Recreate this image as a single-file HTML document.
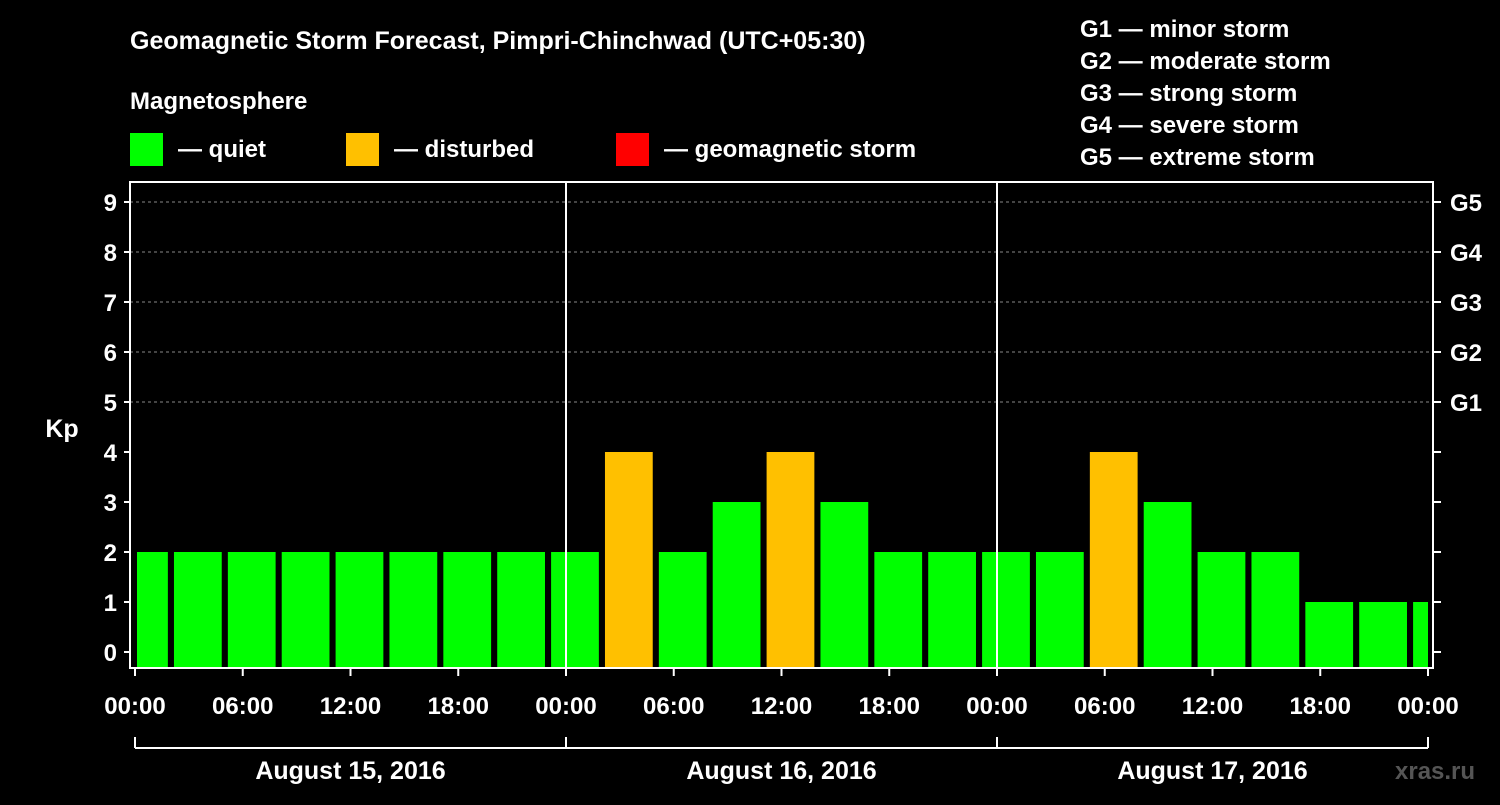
<!DOCTYPE html>
<html><head><meta charset="utf-8"><style>
html,body{margin:0;padding:0;background:#000;}
svg text{font-family:"Liberation Sans",Arial,sans-serif;font-weight:bold;fill:#fff;}
</style></head><body>
<svg id="chart" width="1500" height="800" viewBox="0 0 1500 800" xmlns="http://www.w3.org/2000/svg">
<rect x="0" y="0" width="1500" height="800" fill="#000"/>
<text x="130" y="49" font-size="25">Geomagnetic Storm Forecast, Pimpri-Chinchwad (UTC+05:30)</text>
<text x="130" y="109" font-size="24">Magnetosphere</text>
<g><rect x="130" y="133" width="33" height="33" fill="#00ff00"/><text x="178" y="157" font-size="24">— quiet</text></g>
<g><rect x="346" y="133" width="33" height="33" fill="#ffc000"/><text x="394" y="157" font-size="24">— disturbed</text></g>
<g><rect x="616" y="133" width="33" height="33" fill="#ff0000"/><text x="664" y="157" font-size="24">— geomagnetic storm</text></g>
<g font-size="24">
<text x="1080" y="37">G1 — minor storm</text>
<text x="1080" y="69">G2 — moderate storm</text>
<text x="1080" y="101">G3 — strong storm</text>
<text x="1080" y="133">G4 — severe storm</text>
<text x="1080" y="165">G5 — extreme storm</text>
</g>
<g id="plot"></g>
<text x="62" y="437" font-size="25" text-anchor="middle">Kp</text>
<text x="1395" y="779" font-size="24" fill="#555" style="fill:#555">xras.ru</text>
</svg>
<script>
const kpValues = [2,2,2,2,2,2,2,2,2,4,2,3,4,3,2,2,2,2,4,3,2,2,1,1,1];
const xTickLabels = ["00:00","06:00","12:00","18:00","00:00","06:00","12:00","18:00","00:00","06:00","12:00","18:00","00:00"];
const dayLabels = ["August 15, 2016","August 16, 2016","August 17, 2016"];
const gLabels = ["G1","G2","G3","G4","G5"];
const yTicks = [0,1,2,3,4,5,6,7,8,9];

const NS="http://www.w3.org/2000/svg";
const g=document.getElementById('plot');
const X0=135,X1=1428,Y0=652,PY=50,TOP=182,BOT=668;
const xs=h=>X0+(X1-X0)*h/72;
const ys=v=>Y0-v*PY;
function mk(t,a,p){const e=document.createElementNS(NS,t);for(const k in a)e.setAttribute(k,a[k]);(p||g).appendChild(e);return e;}

// grid
for(const v of yTicks){ if(v>=5){
 const l=mk('line',{x1:130,x2:1433,y1:ys(v),y2:ys(v),stroke:'#888','stroke-dasharray':'3,3','stroke-width':1});
 
 
}}
// bars
kpValues.forEach((v,i)=>{
 const c=0.5+3*i;
 let a=Math.max(0,c-1.33),b=Math.min(72,c+1.33);
 const col=v>=5?'#ff0000':(v>=4?'#ffc000':'#00ff00');
 const r=mk('rect',{x:xs(a)+(i===0?2:0),y:ys(v),width:xs(b)-xs(a)-(i===0?2:0),height:BOT-ys(v),fill:col});
 
 
});
// frame
const fr=mk('rect',{x:130,y:TOP,width:1303,height:BOT-TOP,fill:'none',stroke:'#fff','stroke-width':2});


for(const d of [1,2]){
 const l=mk('line',{x1:xs(24*d),x2:xs(24*d),y1:TOP,y2:BOT,stroke:'#fff','stroke-width':2});
 
 
}
// y ticks and labels
for(const v of yTicks){
 mk('line',{x1:124,x2:130,y1:ys(v),y2:ys(v),stroke:'#fff','stroke-width':2});
 mk('line',{x1:1433,x2:1441,y1:ys(v),y2:ys(v),stroke:'#fff','stroke-width':2});
 const t=mk('text',{x:117,y:ys(v)+9,'font-size':24,'text-anchor':'end'});
 t.textContent=v;
 
 
}
gLabels.forEach((s,i)=>{
 const t=mk('text',{x:1450,y:ys(5+i)+9,'font-size':24});
 t.textContent=s;
 
 
});
// x ticks
xTickLabels.forEach((s,i)=>{
 const x=xs(6*i);
 mk('line',{x1:x,x2:x,y1:BOT,y2:BOT+8,stroke:'#fff','stroke-width':2});
 const t=mk('text',{x:x,y:714,'font-size':24,'text-anchor':'middle'});
 t.textContent=s;
 
 
});
// day bracket
mk('line',{x1:X0,x2:X1,y1:748,y2:748,stroke:'#fff','stroke-width':2});
for(let d=0;d<=3;d++) mk('line',{x1:xs(24*d),x2:xs(24*d),y1:737,y2:748,stroke:'#fff','stroke-width':2});
dayLabels.forEach((s,i)=>{
 const t=mk('text',{x:xs(24*i+12),y:779,'font-size':25,'text-anchor':'middle'});
 t.textContent=s;
 
 
});
</script>
</body></html>
